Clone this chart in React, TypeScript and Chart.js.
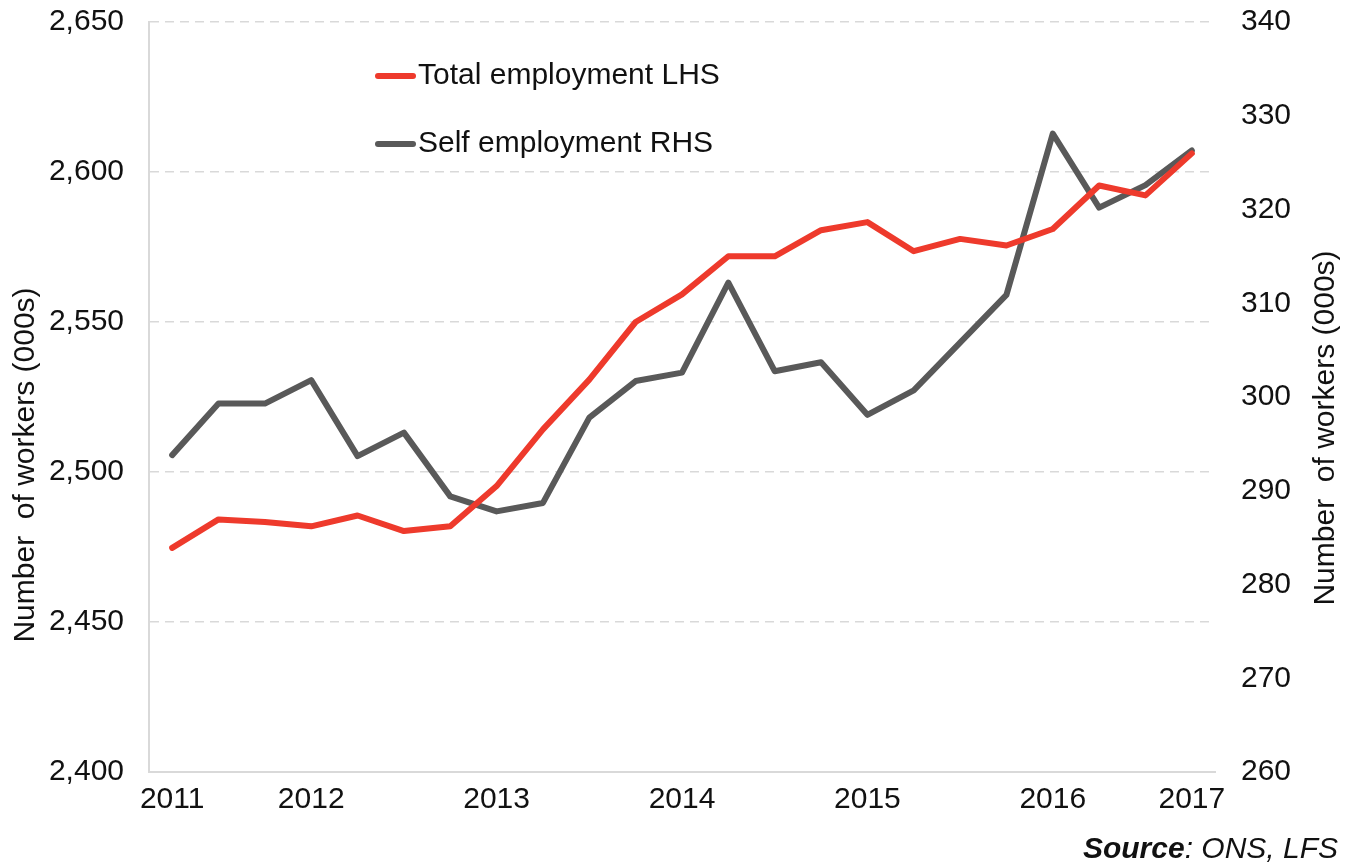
import React, { useEffect, useRef } from 'react';
import { Chart, registerables } from 'chart.js';

Chart.register(...registerables);

const categories = ['2011', '', '', '2012', '', '', '', '2013', '', '', '', '2014', '', '', '', '2015', '', '', '', '2016', '', '', '2017'];
const totalEmployment = [2474.7, 2484.2, 2483.3, 2481.9, 2485.5, 2480.3, 2481.9, 2495.3, 2514.2, 2530.8, 2550.0, 2559.2, 2571.9, 2571.9, 2580.6, 2583.3, 2573.6, 2577.7, 2575.5, 2581.0, 2595.5, 2592.2, 2606.2];
const selfEmployment = [293.8, 299.3, 299.3, 301.8, 293.7, 296.2, 289.4, 287.8, 288.7, 297.8, 301.7, 302.6, 312.2, 302.75, 303.7, 298.1, 300.7, 305.8, 310.9, 328.1, 320.2, 322.6, 326.3];
const seriesNames = ['Total employment LHS', 'Self employment RHS'];
const axisTitle = 'Number  of workers (000s)';
const sourceBold = 'Source';
const sourceRest = ': ONS, LFS';

const RED = '#EE3A2C';
const GREY = '#595959';
const FONT = '"Liberation Sans", Arial, sans-serif';
const FS = 30;

const overlay = {
  id: 'overlay',
  afterDraw(chart: any) {
    const ctx = chart.ctx as CanvasRenderingContext2D;
    ctx.save();
    const items = [
      { name: seriesNames[0], color: RED, y: 76 },
      { name: seriesNames[1], color: GREY, y: 144 },
    ];
    ctx.font = `${FS}px ${FONT}`;
    ctx.textBaseline = 'middle';
    ctx.textAlign = 'left';
    items.forEach((it) => {
      ctx.beginPath();
      ctx.strokeStyle = it.color;
      ctx.lineWidth = 6;
      ctx.lineCap = 'round';
      ctx.moveTo(378, it.y);
      ctx.lineTo(413, it.y);
      ctx.stroke();
      ctx.fillStyle = '#111';
      ctx.fillText(it.name, 418, it.y);
    });
    ctx.fillStyle = '#111';
    ctx.textAlign = 'center';
    ctx.save();
    ctx.translate(26, 465);
    ctx.rotate(-Math.PI / 2);
    ctx.fillText(axisTitle, 0, 0);
    ctx.restore();
    ctx.save();
    ctx.translate(1326, 428);
    ctx.rotate(-Math.PI / 2);
    ctx.fillText(axisTitle, 0, 0);
    ctx.restore();
    ctx.textAlign = 'left';
    ctx.font = `italic ${FS}px ${FONT}`;
    const wRest = ctx.measureText(sourceRest).width;
    ctx.font = `italic bold ${FS}px ${FONT}`;
    const wBold = ctx.measureText(sourceBold).width;
    const right = 1338;
    const ys = 850;
    ctx.fillText(sourceBold, right - wRest - wBold, ys);
    ctx.font = `italic ${FS}px ${FONT}`;
    ctx.fillText(sourceRest, right - wRest, ys);
    ctx.restore();
  },
};

export default function App() {
  const ref = useRef<HTMLCanvasElement | null>(null);
  useEffect(() => {
    if (!ref.current) return;
    const chart = new Chart(ref.current, {
      type: 'line',
      data: {
        labels: categories,
        datasets: [
          {
            label: seriesNames[0],
            data: totalEmployment,
            yAxisID: 'yL',
            borderColor: RED,
            backgroundColor: RED,
            borderWidth: 6,
            pointRadius: 0,
            borderJoinStyle: 'round',
            borderCapStyle: 'round',
            tension: 0,
          },
          {
            label: seriesNames[1],
            data: selfEmployment,
            yAxisID: 'yR',
            borderColor: GREY,
            backgroundColor: GREY,
            borderWidth: 6,
            pointRadius: 0,
            borderJoinStyle: 'round',
            borderCapStyle: 'round',
            tension: 0,
          },
        ],
      },
      options: {
        responsive: false,
        animation: false,
        layout: { padding: { left: 0, right: 0, top: 22, bottom: 0 } },
        plugins: { legend: { display: false }, tooltip: { enabled: false } },
        scales: {
          x: {
            type: 'category',
            offset: true,
            grid: { display: false, drawTicks: false },
            border: { display: true, color: '#d9d9d9', width: 2 },
            ticks: {
              autoSkip: false,
              maxRotation: 0,
              padding: 10,
              color: '#111',
              font: { family: FONT, size: FS },
            },
            afterFit: (s: any) => { s.height = 95; s.paddingLeft = 0; s.paddingRight = 0; },
          },
          yL: {
            type: 'linear',
            position: 'left',
            min: 2400,
            max: 2650,
            ticks: {
              stepSize: 50,
              padding: 25,
              color: '#111',
              font: { family: FONT, size: FS },
            },
            grid: { color: '#d9d9d9', lineWidth: 1.5, drawTicks: false },
            border: { display: true, color: '#d9d9d9', width: 2, dash: [9, 6] },
            afterFit: (s: any) => { s.width = 149; s.paddingTop = 0; s.paddingBottom = 0; },
          },
          yR: {
            type: 'linear',
            position: 'right',
            min: 260,
            max: 340,
            ticks: {
              stepSize: 10,
              padding: 26,
              color: '#111',
              font: { family: FONT, size: FS },
            },
            grid: { display: false, drawTicks: false },
            border: { display: false },
            afterFit: (s: any) => { s.width = 139; s.paddingTop = 0; s.paddingBottom = 0; },
          },
        },
      },
      plugins: [overlay],
    });
    return () => chart.destroy();
  }, []);
  return (
    <div style={{ position: 'fixed', left: 0, top: 0, width: 1354, height: 867, background: '#fff' }}>
      <canvas ref={ref} width={1354} height={867} />
    </div>
  );
}
